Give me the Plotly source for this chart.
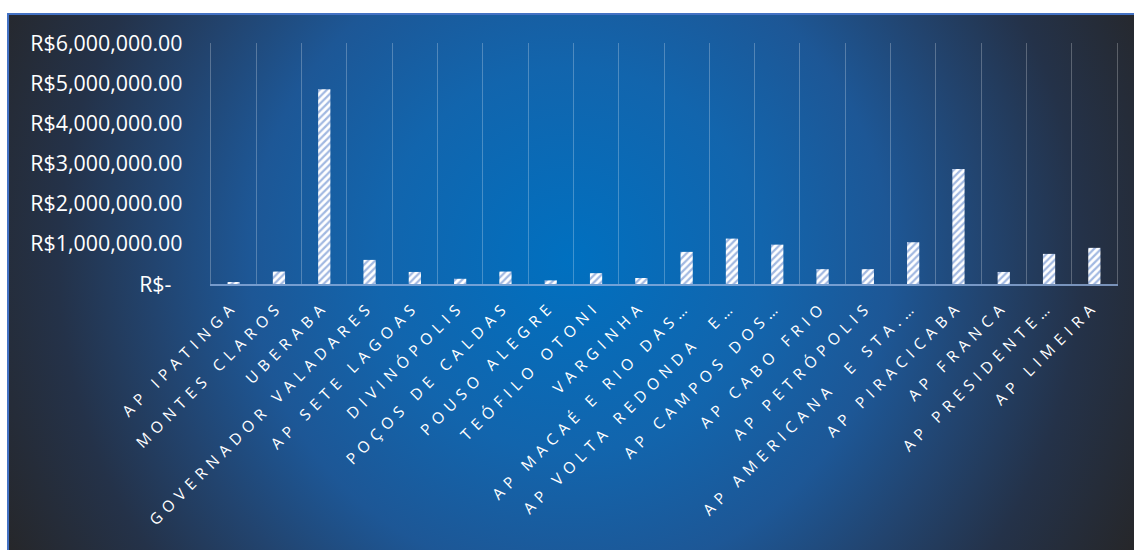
import base64
import plotly.graph_objects as go

categories = ["AP IPATINGA", "MONTES CLAROS", "UBERABA", "GOVERNADOR VALADARES",
              "AP SETE LAGOAS", "DIVINÓPOLIS", "POÇOS DE CALDAS", "POUSO ALEGRE",
              "TEÓFILO OTONI", "VARGINHA", "AP MACAÉ E RIO DAS…",
              "AP VOLTA REDONDA\u00a0 E…", "AP CAMPOS DOS…", "AP CABO FRIO",
              "AP PETRÓPOLIS", "AP AMERICANA\u00a0 E STA.…", "AP PIRACICABA",
              "AP FRANCA", "AP PRESIDENTE…", "AP LIMEIRA"]
values = [40000, 310000, 4850000, 600000, 300000, 130000, 310000, 90000,
          270000, 150000, 800000, 1130000, 980000, 370000, 370000, 1040000,
          2860000, 300000, 750000, 900000]
y_tickvals = [0, 1000000, 2000000, 3000000, 4000000, 5000000, 6000000]
y_ticktext = ["R$-\u00a0\u00a0", "R$1,000,000.00", "R$2,000,000.00", "R$3,000,000.00",
              "R$4,000,000.00", "R$5,000,000.00", "R$6,000,000.00"]

W, H = 1134, 550
L, R, T, B = 211, 17, 43, 266
pw, ph = W - L - R, H - T - B

svg = f'''<svg xmlns="http://www.w3.org/2000/svg" width="{W}" height="{H}" viewBox="0 0 {W} {H}">
<defs><radialGradient id="g" gradientUnits="userSpaceOnUse" cx="570" cy="260" r="640">
<stop offset="0" stop-color="#0070C0"/>
<stop offset="0.3" stop-color="#1265AD"/>
<stop offset="0.5" stop-color="#1D5796"/>
<stop offset="0.65" stop-color="#22446F"/>
<stop offset="0.8" stop-color="#243249"/>
<stop offset="1" stop-color="#262628"/>
</radialGradient></defs>
<rect width="{W}" height="{H}" fill="white"/>
<rect x="8" y="14" width="1130" height="540" fill="url(#g)" stroke="#4472C4" stroke-width="2"/>
</svg>'''
src = "data:image/svg+xml;base64," + base64.b64encode(svg.encode()).decode()

fig = go.Figure(go.Bar(
    x=categories, y=values,
    marker=dict(color="white",
                line=dict(width=0),
                pattern=dict(shape="/", fgcolor="#4472C4", bgcolor="white",
                             size=5, solidity=0.45)),
))

grid = "rgba(255,255,255,0.25)"
fig.update_layout(
    width=W, height=H,
    margin=dict(l=L, r=R, t=T, b=B, autoexpand=False),
    paper_bgcolor="white", plot_bgcolor="rgba(0,0,0,0)",
    bargap=0.73, showlegend=False,
    font=dict(family="Open Sans", color="white"),
    images=[dict(source=src, xref="paper", yref="paper",
                 x=-L / pw, y=1 + T / ph, sizex=W / pw, sizey=H / ph,
                 xanchor="left", yanchor="top", sizing="stretch", layer="below")],
    xaxis=dict(type="category", tickangle=-45, tickson="boundaries",
               showgrid=True, gridcolor=grid, gridwidth=1.3, ticks="",
               showline=True, linecolor="rgba(150,180,225,0.75)", linewidth=2,
               ticklabelshift=0, ticklabelstandoff=5,
               tickfont=dict(size=15.5, color="white", family="Open Sans")),
    yaxis=dict(range=[0, 6000000], tickvals=y_tickvals, ticktext=y_ticktext,
               showgrid=False, zeroline=False, showline=True, mirror=True,
               linecolor=grid, linewidth=1.3, ticks="", ticklabelstandoff=23,
               tickfont=dict(size=21.4, color="white", family="Open Sans")),
)

post = ("var s=document.createElement('style');"
        "s.textContent='.xtick text{letter-spacing:5.8px;}';"
        "document.head.appendChild(s);")
fig.write_html("out.html", post_script=post)
